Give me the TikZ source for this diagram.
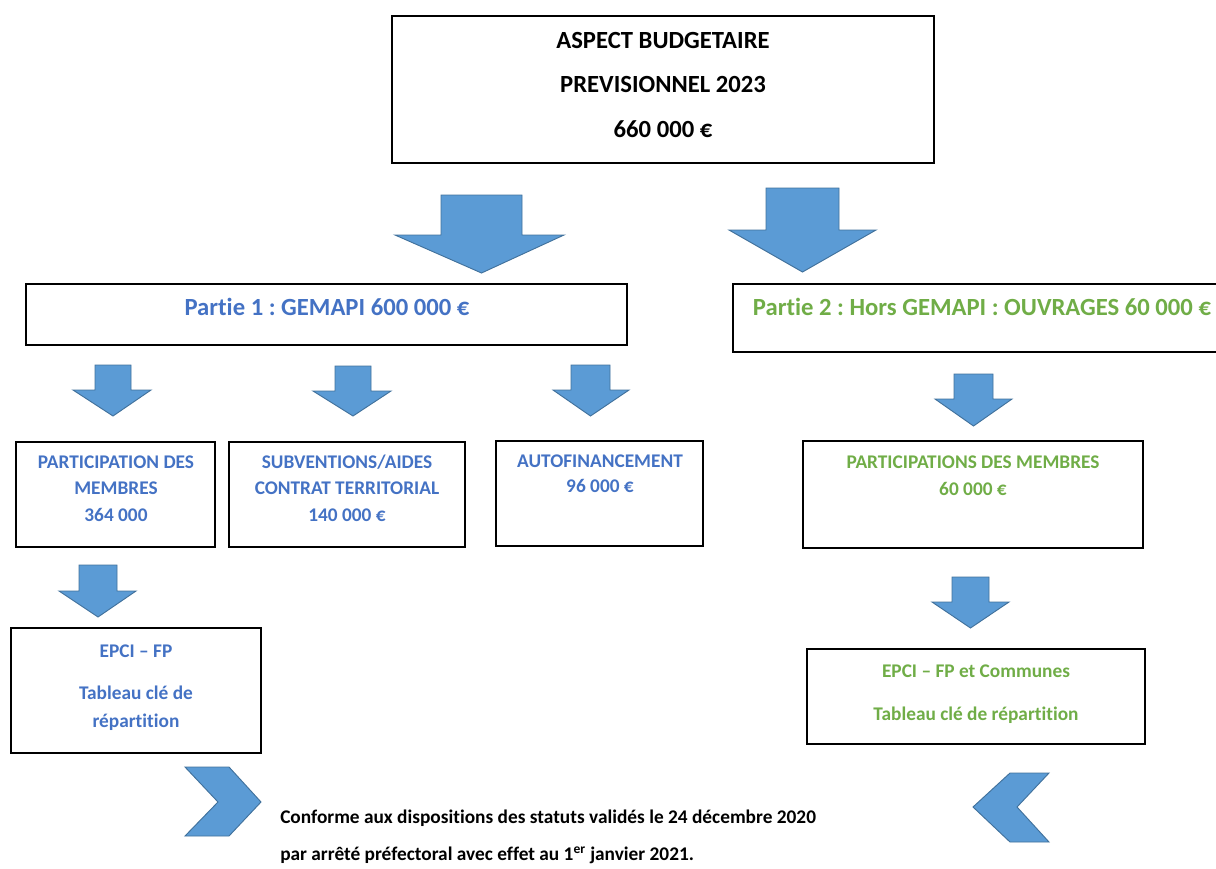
\documentclass[tikz,border=0pt]{standalone}
\usepackage{fontspec}
\setmainfont{Carlito}[RawFeature=-liga]
\frenchspacing
\definecolor{bleuTexte}{HTML}{4472C4}
\definecolor{vertTexte}{HTML}{70AD47}
\definecolor{bleuFleche}{HTML}{5B9BD5}
\definecolor{bordFleche}{HTML}{41719C}
\tikzset{
  cadre/.style={draw=black, line width=0.9pt},
  fleche/.style={fill=bleuFleche, draw=bordFleche, line width=0.7pt, line join=miter},
  grand/.style={font=\fontsize{18.5}{22}\selectfont\bfseries, anchor=base, inner sep=0pt},
  petit/.style={font=\fontsize{14.5}{17}\selectfont\bfseries, anchor=base, inner sep=0pt}
}
% down arrow: shaft left, shaft right, top, head y, head left, head right, tip y
\newcommand{\flecheBas}[7]{%
  \draw[fleche] (#1,#3) -- (#2,#3) -- (#2,#4) -- (#6,#4) -- ({(#1+#2)/2},#7)
    -- (#5,#4) -- (#1,#4) -- cycle;}
\begin{document}
\begin{tikzpicture}[x=0.75pt,y=-0.75pt]
      \useasboundingbox (0,0) rectangle (1216,868);
      % Top box
      \draw[cadre] (392,16) rectangle (934,163);
      \node[grand] (titre1) at (663,48) {ASPECT BUDGETAIRE};
      \node[grand] (titre2) at (663,92) {PREVISIONNEL 2023};
      \node[grand] (titre3) at (663,137) {660 000 €};
      % Big arrows
      \flecheBas{441}{522}{195}{235}{395}{564}{273}
      \flecheBas{766}{839}{188}{230}{729}{876}{272}
      % Partie 1
      \draw[cadre] (26,284) rectangle (627,345);
      \node[grand, text=bleuTexte] (partie1) at (327,315) {Partie 1 : GEMAPI 600 000 €};
      % Partie 2 (right side runs off the page)
      \draw[cadre] (1225,284) -- (733,284) -- (733,352) -- (1225,352);
      \node[grand, text=vertTexte] (partie2) at (982,315) {Partie 2 : Hors GEMAPI : OUVRAGES 60 000 €};
      % Small arrows
      \flecheBas{95}{131}{365}{390}{73}{151}{416}
      \flecheBas{335}{371}{366}{391}{313}{391}{416}
      \flecheBas{571}{610}{365}{390}{553}{629}{416}
      \flecheBas{954}{993}{374}{399}{935}{1012}{426}
      % Participation des membres
      \draw[cadre] (16,442) rectangle (215,547);
      \node[petit, text=bleuTexte] (partA1) at (116,468) {PARTICIPATION DES};
      \node[petit, text=bleuTexte] (partA2) at (116,494) {MEMBRES};
      \node[petit, text=bleuTexte] (partA3) at (116,521) {364 000};
      % Subventions
      \draw[cadre] (229,442) rectangle (465,547);
      \node[petit, text=bleuTexte] (subv1) at (347,468) {SUBVENTIONS/AIDES};
      \node[petit, text=bleuTexte] (subv2) at (347,494) {CONTRAT TERRITORIAL};
      \node[petit, text=bleuTexte] (subv3) at (347,521) {140 000 €};
      % Autofinancement
      \draw[cadre, line width=1.5pt] (496,441) rectangle (703,546);
      \node[petit, text=bleuTexte] (auto1) at (600,467) {AUTOFINANCEMENT};
      \node[petit, text=bleuTexte] (auto2) at (600,492) {96 000 €};
      % Participations des membres (partie 2)
      \draw[cadre] (803,441) rectangle (1143,548);
      \node[petit, text=vertTexte] (membres1) at (973,468) {PARTICIPATIONS DES MEMBRES};
      \node[petit, text=vertTexte] (membres2) at (973,495) {60 000 €};
      % Lower arrows
      \flecheBas{79}{117}{565}{591}{59}{136}{617}
      \flecheBas{952}{989}{577}{602}{932}{1009}{628}
      % EPCI boxes
      \draw[cadre] (11,628) rectangle (261,753);
      \node[petit, text=bleuTexte] (epciA1) at (136,657) {EPCI – FP};
      \node[petit, text=bleuTexte] (epciA2) at (136,699) {Tableau clé de};
      \node[petit, text=bleuTexte] (epciA3) at (136,727) {répartition};
      \draw[cadre] (807,649) rectangle (1145,744);
      \node[petit, text=vertTexte] (epciB1) at (976,677) {EPCI – FP et Communes};
      \node[petit, text=vertTexte] (epciB2) at (976,720) {Tableau clé de répartition};
      % Chevrons
      \draw[fleche] (185,767) -- (229,767) -- (261,802) -- (229,836) -- (185,836) -- (218,802) -- cycle;
      \draw[fleche] (1049,773) -- (1010,773) -- (973,807) -- (1010,842) -- (1049,842) -- (1017,807) -- cycle;
      % Note
      \node[petit, anchor=base west, text=black] (note1) at (280,823)
        {Conforme aux dispositions des statuts validés le 24 décembre 2020};
      \node[petit, anchor=base west, text=black] (note2) at (280,860)
        {par arrêté préfectoral avec effet au 1\textsuperscript{er} janvier 2021.};
\end{tikzpicture}
\end{document}
